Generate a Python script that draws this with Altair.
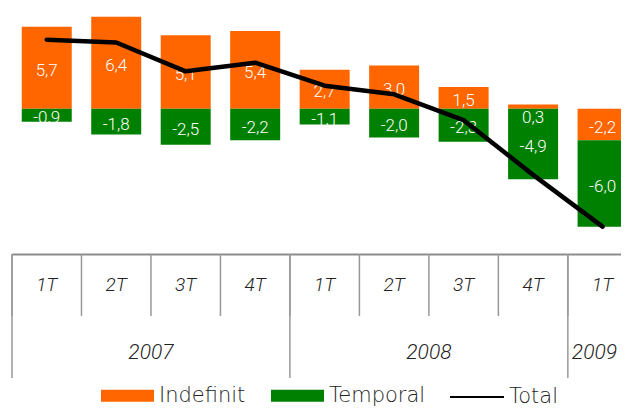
import altair as alt
import pandas as pd

quarters = ["1T", "2T", "3T", "4T", "1T", "2T", "3T", "4T", "1T"]
quarter_year = ["2007", "2007", "2007", "2007", "2008", "2008", "2008", "2008", "2009"]
years = ["2007", "2008", "2009"]
indefinit = [5.7, 6.4, 5.1, 5.4, 2.7, 3.0, 1.5, 0.3, -2.2]
temporal = [-0.9, -1.8, -2.5, -2.2, -1.1, -2.0, -2.3, -4.9, -6.0]
series = ["Indefinit", "Temporal"]
colors = ["#FF6600", "#008000"]

N = len(quarters)
W, H = 609, 246
STEP = 69.48
XMAX = W / STEP
FONT = "Roboto"


def fmt(v):
    return f"{v:.1f}".replace(".", ",")


rows = []
for i in range(N):
    ind, tmp = indefinit[i], temporal[i]
    same_side = (ind < 0 and tmp < 0) or (ind > 0 and tmp > 0)
    segs = [("Indefinit", 0.0, ind), ("Temporal", ind if same_side else 0.0, tmp)]
    for name, base, v in segs:
        top = base + v
        mid = (base + top) / 2
        ly = mid - 0.6 if abs(v) < 0.5 else mid
        rows.append(dict(xc=i + 0.5, serie=name, base=base, top=top, ly=ly, label=fmt(v)))
bars_df = pd.DataFrame(rows)

line_df = pd.DataFrame({
    "xc": [i + 0.5 for i in range(N)],
    "total": [round(a + b, 1) for a, b in zip(indefinit, temporal)],
    "serie": ["Total"] * N,
})

qsep_df = pd.DataFrame({"b": list(range(N + 1))})
ybounds = [0]
for y in years:
    ybounds.append(ybounds[-1] + quarter_year.count(y))
ysep_df = pd.DataFrame({"b": ybounds})
qlab_df = pd.DataFrame({"xc": [i + 0.5 for i in range(N)], "q": quarters})
# year label centred on the visible part of its group
ylab_df = pd.DataFrame({
    "xc": [(ybounds[k] + min(ybounds[k + 1], XMAX)) / 2 for k in range(len(years))],
    "y": years,
})

xscale = alt.Scale(domain=[0, XMAX], nice=False, zero=False, padding=0)
yscale = alt.Scale(domain=[-10.1, 7.0], nice=False, zero=False, padding=0)
xaxis = alt.Axis(domain=True, domainColor="#8c8c8c", domainWidth=2, ticks=False,
                 labels=False, grid=False, title=None)


def X(field):
    return alt.X(field, type="quantitative", scale=xscale, axis=xaxis)


LEG_Y = 361

bars = alt.Chart(bars_df).mark_bar(size=50).encode(
    x=X("xc"),
    y=alt.Y("base:Q", scale=yscale, axis=None),
    y2="top:Q",
    color=alt.Color(
        "serie:N",
        scale=alt.Scale(domain=series, range=colors),
        legend=alt.Legend(
            title=None, orient="none", direction="horizontal",
            legendX=89, legendY=LEG_Y, padding=0,
            symbolType="M-1,-0.226H1V0.226H-1Z", symbolSize=2809,
            symbolStrokeWidth=0, symbolOpacity=1,
            labelFont="DejaVu Sans", labelFontSize=21, labelFontWeight=200,
            labelColor="#222222", labelOffset=5, columnPadding=25,
        ),
    ),
)

labels = alt.Chart(bars_df).mark_text(
    color="white", font=FONT, fontSize=17, fontWeight=300, baseline="middle", dy=3
).encode(x=X("xc"), y=alt.Y("ly:Q", scale=yscale, axis=None), text="label:N")

line = alt.Chart(line_df).mark_line(strokeWidth=4.5, strokeCap="round", strokeJoin="round").encode(
    x=X("xc"),
    y=alt.Y("total:Q", scale=yscale, axis=None),
    stroke=alt.Stroke(
        "serie:N",
        scale=alt.Scale(domain=["Total"], range=["black"]),
        legend=alt.Legend(
            title=None, orient="none", direction="horizontal",
            legendX=437, legendY=LEG_Y, padding=0,
            symbolType="stroke", symbolSize=2916, symbolStrokeWidth=2,
            labelFont="DejaVu Sans", labelFontSize=21, labelFontWeight=200,
            labelColor="#222222", labelOffset=4,
        ),
    ),
)

qsep = alt.Chart(qsep_df).mark_rule(color="#999999", strokeWidth=1.5).encode(
    x=X("b"), y=alt.value(H), y2=alt.value(H + 62)
)
ysep = alt.Chart(ysep_df).mark_rule(color="#999999", strokeWidth=1.5).encode(
    x=X("b"), y=alt.value(H), y2=alt.value(H + 124)
)
qlab = alt.Chart(qlab_df).mark_text(
    font=FONT, fontStyle="italic", fontWeight=300, fontSize=19, color="#222222", baseline="middle"
).encode(x=X("xc"), y=alt.value(H + 31), text="q:N")
ylab = alt.Chart(ylab_df).mark_text(
    font=FONT, fontStyle="italic", fontWeight=300, fontSize=21, color="#222222", baseline="middle"
).encode(x=X("xc"), y=alt.value(H + 99), text="y:N")

chart = alt.layer(bars, labels, line, qsep, ysep, qlab, ylab).properties(
    width=W, height=H,
    autosize=alt.AutoSizeParams(type="none"),
    padding={"left": 4, "top": 0, "right": 0, "bottom": 155},
).configure_view(stroke=None).resolve_scale(color="independent")

chart.save("out.html", embed_options={"renderer": "svg", "actions": False})
